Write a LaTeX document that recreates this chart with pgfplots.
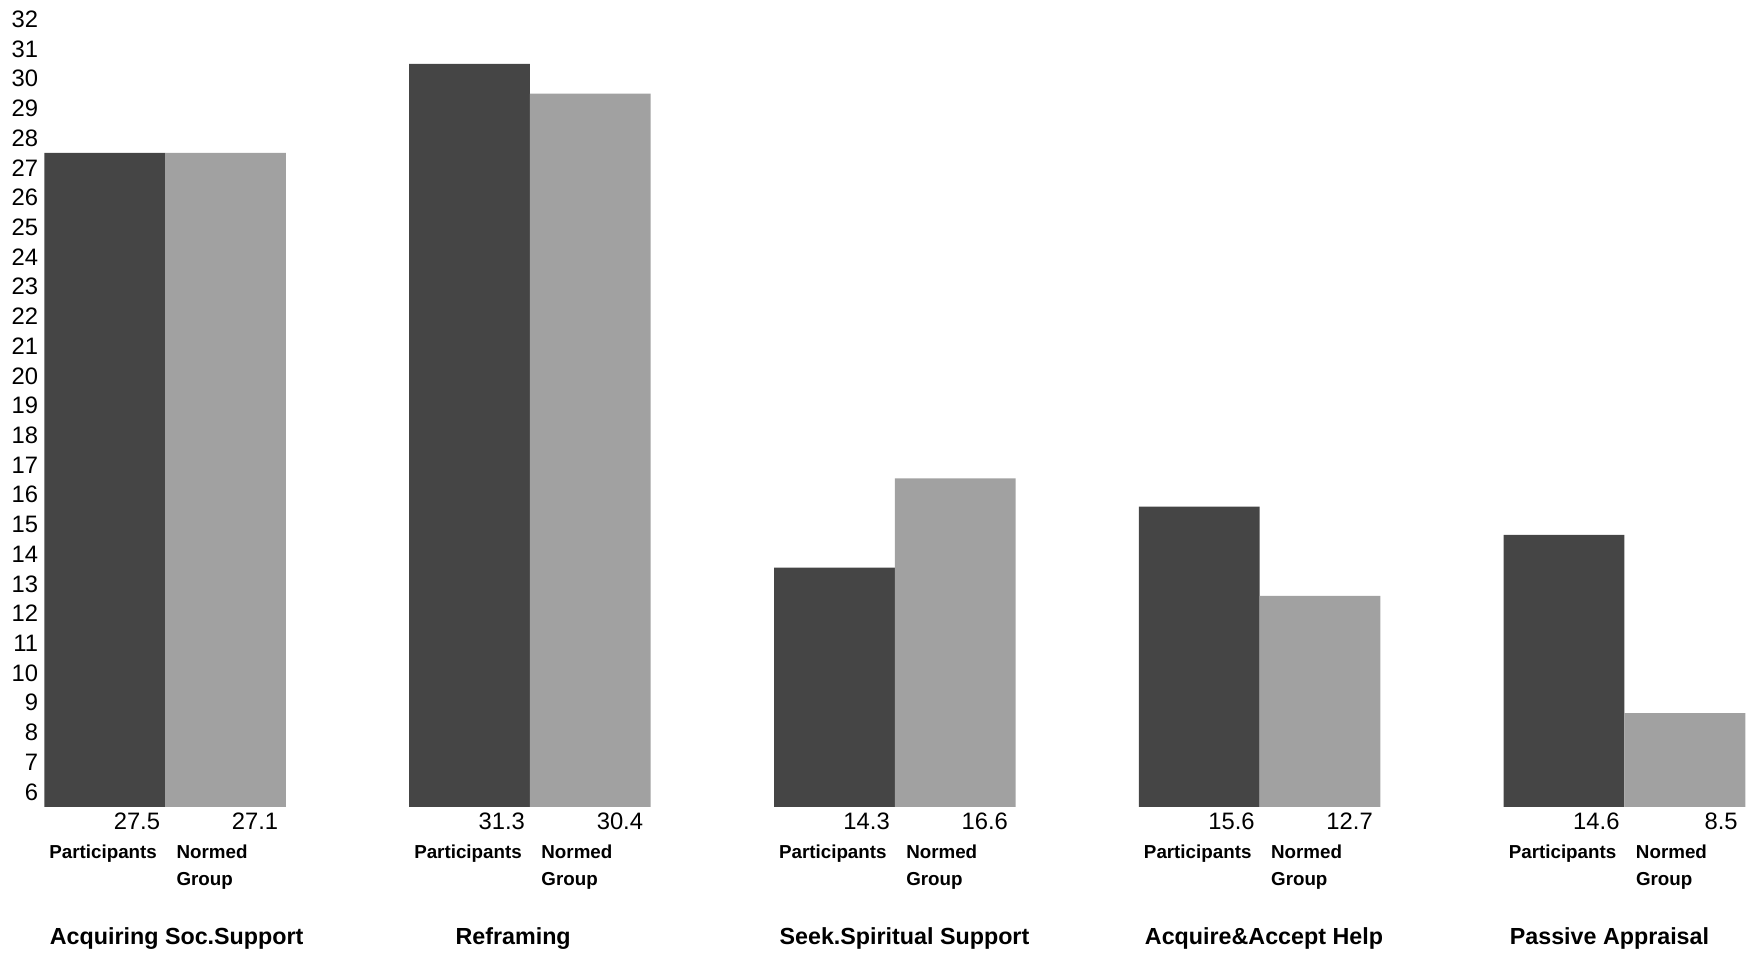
\documentclass[border=0pt]{standalone}
\usepackage{pgfplots}
\pgfplotsset{compat=1.18}
\usepackage{fontspec}
\setmainfont{Liberation Sans}

\definecolor{partc}{gray}{0.27}
\definecolor{normc}{gray}{0.63}

\newlength{\bw}\setlength{\bw}{48.2pt}
% #1 value participants, #2 value normed, #3 category, #4 offset of category name
\newcommand{\grp}[4]{%
  \vtop{\offinterlineskip
    \hbox to 2\bw{\fontsize{9.5}{11}\selectfont\hfil\smash{#1}\hspace{2pt}\hbox to \bw{\hfil\smash{#2}\hspace{3pt}}}%
    \vskip 11.6pt
    \hbox to 2\bw{\fontsize{7.5}{9}\selectfont\bfseries\hspace{2pt}\smash{Participants}\hfil\hbox to \bw{\hspace{4.6pt}\smash{Normed}\hfil}}%
    \vskip 10.8pt
    \hbox to 2\bw{\fontsize{7.5}{9}\selectfont\bfseries\hskip\bw\hspace{4.6pt}\smash{Group}\hfil}%
    \vskip 23.6pt
    \hbox to 2\bw{\fontsize{9.3}{11}\selectfont\bfseries\hspace{#4}\rlap{\smash{#3}}\hfil}}}

\begin{document}
\begin{tikzpicture}
\useasboundingbox (-17.7pt,-59.3pt) rectangle (686.6pt,322.3pt);
\begin{axis}[
  at={(0pt,0pt)}, anchor=south west,
  scale only axis,
  width=679.5pt, height=314.6pt,
  xmin=-0.331, xmax=4.331,
  ymin=5.5, ymax=32,
  axis line style={draw=none},
  ybar, bar width=0.331,
  ytick={6,...,32},
  xtick style={draw=none}, ytick style={draw=none},
  /pgf/number format/assume math mode=true,
  yticklabel style={font=\fontsize{9.5}{11}\selectfont, inner sep=0pt, xshift=-2.3pt},
  xtick={0,...,4},
  xticklabels={
    \grp{27.5}{27.1}{Acquiring Soc.Support}{2.2pt},
    \grp{31.3}{30.4}{Reframing}{18.5pt},
    \grp{14.3}{16.6}{Seek.Spiritual Support}{2.2pt},
    \grp{15.6}{12.7}{Acquire\&Accept Help}{2.4pt},
    \grp{14.6}{8.5}{Passive Appraisal}{2.4pt}
  },
  xticklabel style={inner sep=0pt, yshift=-4.6pt, anchor=north},
]
% Participants
\addplot[fill=partc, draw=none, bar shift=-0.1655] coordinates {
  (0,27.5) (1,30.5) (2,13.55) (3,15.6) (4,14.65)
};
% Normed Group
\addplot[fill=normc, draw=none, bar shift=0.1655] coordinates {
  (0,27.5) (1,29.5) (2,16.55) (3,12.6) (4,8.65)
};
\end{axis}
\end{tikzpicture}
\end{document}
